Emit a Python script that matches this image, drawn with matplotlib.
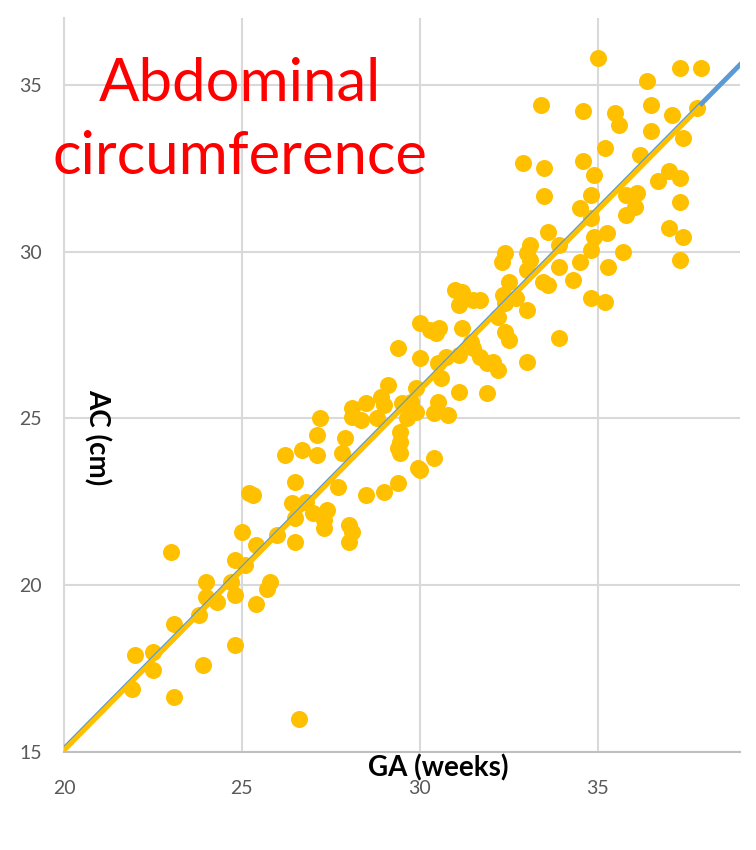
import matplotlib
matplotlib.use('Agg')
import matplotlib.pyplot as plt
import numpy as np

plt.rcParams['font.family'] = ['Lato', 'DejaVu Sans']

# GA (weeks) and AC (cm)
ga = [21.9, 22.0, 22.5, 22.5, 23.0, 23.1, 23.1, 23.8, 23.9, 24.0, 24.0, 24.3, 24.7, 24.8, 24.8, 24.8, 25.0,
      25.1, 25.2, 25.3, 25.4, 25.4, 25.7, 25.8, 26.0, 26.2, 26.4, 26.5, 26.5, 26.5, 26.6, 26.7, 26.8, 27.0,
      27.1, 27.1, 27.2, 27.3, 27.3, 27.4, 27.7, 27.8, 27.9, 28.0, 28.1, 28.0, 28.5, 29.0, 29.4, 29.45, 29.45,
      29.4, 29.45, 29.95,
      28.1, 28.1, 28.5, 28.35, 28.8, 28.9, 29.1, 29.0, 29.4, 29.5, 29.75, 29.9, 29.65, 29.9,
      30.0, 30.0, 30.3, 30.55, 30.45, 30.5, 30.75, 30.6, 30.5, 30.4, 30.8, 31.1, 31.1, 31.2, 31.0, 31.2,
      31.1, 31.5, 31.7, 31.45, 31.5, 31.7, 31.9, 32.05, 32.2, 31.9, 32.2, 32.4, 32.5, 32.35, 32.4, 32.7,
      32.5, 32.3, 32.4, 33.1, 33.0, 33.1, 33.0, 33.0, 33.0, 33.45, 33.6, 33.9, 33.9, 33.9, 34.3, 34.5,
      34.8, 34.8, 30.0, 30.4,
      35.0, 37.3, 37.9, 36.4, 33.4, 34.6, 35.5, 35.6, 36.5, 37.1, 37.8, 36.5, 37.4, 35.2, 36.2, 32.9,
      33.5, 34.6, 34.9, 37.0, 37.3, 36.7, 33.5, 34.8, 35.8, 36.1, 35.8, 36.05, 34.5, 34.8, 37.3, 33.6,
      34.9, 35.25, 37.0, 37.4, 35.3, 35.7, 35.2, 37.3]
ac = [16.9, 17.9, 18.0, 17.45, 21.0, 18.85, 16.65, 19.1, 17.6, 20.1, 19.65, 19.5, 20.1, 20.75, 19.7, 18.2, 21.6,
      20.6, 22.75, 22.7, 21.2, 19.45, 19.9, 20.1, 21.5, 23.9, 22.45, 23.1, 22.0, 21.3, 16.0, 24.05, 22.5, 22.15,
      24.5, 23.9, 25.0, 21.95, 21.7, 22.25, 22.95, 23.95, 24.4, 21.8, 21.6, 21.3, 22.7, 22.8, 23.05, 24.6, 24.3,
      24.1, 23.95, 23.5,
      25.3, 25.05, 25.45, 24.95, 25.0, 25.65, 26.0, 25.4, 27.1, 25.45, 25.5, 25.2, 25.0, 25.9,
      27.85, 26.8, 27.65, 27.7, 27.55, 26.65, 26.85, 26.2, 25.5, 25.15, 25.1, 25.8, 26.9, 27.7, 28.85, 28.8,
      28.4, 28.55, 28.55, 27.3, 27.1, 26.85, 26.65, 26.7, 26.45, 25.75, 28.05, 27.6, 27.35, 28.7, 28.45, 28.6,
      29.1, 29.7, 29.95, 30.2, 29.95, 29.75, 29.45, 28.25, 26.7, 29.1, 29.0, 27.4, 29.55, 30.2, 29.15, 29.7,
      30.05, 28.6, 23.45, 23.8,
      35.8, 35.5, 35.5, 35.1, 34.4, 34.2, 34.15, 33.8, 34.4, 34.1, 34.3, 33.6, 33.4, 33.1, 32.9, 32.65,
      32.5, 32.7, 32.3, 32.4, 32.2, 32.1, 31.65, 31.7, 31.7, 31.75, 31.1, 31.35, 31.3, 31.0, 31.5, 30.6,
      30.45, 30.55, 30.7, 30.45, 29.55, 30.0, 28.5, 29.75]

# two straight lines
blue_x = [20, 39.5]
blue_y = [15.1, 36.14]
fit_x = [20, 37.9]
fit_y = [15.05, 34.36]

xticks = [20, 25, 30, 35]
yticks = [15, 20, 25, 30, 35]

fig = plt.figure(figsize=(7.56, 8.5), dpi=100)
ax = fig.add_axes([64/756, 1-752/850, 676/756, 734/850])

ax.scatter(ga, ac, s=150, color='#FFC000', zorder=3, linewidths=0)
ax.plot(blue_x, blue_y, color='#5B9BD5', linewidth=3.5, zorder=4, solid_capstyle='butt')
ax.plot(fit_x, fit_y, color='#FFC000', linewidth=3.5, zorder=5, solid_capstyle='butt')

ax.set_xlim(20, 39)
ax.set_ylim(15, 37)
ax.set_xticks(xticks)
ax.set_yticks(yticks)
ax.grid(True, color='#d9d9d9', linewidth=1.5)
ax.set_axisbelow(True)
for s in ['top', 'right']:
    ax.spines[s].set_visible(False)
ax.spines['left'].set_color('#d9d9d9')
ax.spines['bottom'].set_color('#bfbfbf')
ax.spines['left'].set_linewidth(1.5)
ax.spines['bottom'].set_linewidth(1.5)
ax.tick_params(length=0, labelsize=14, colors='#595959')
ax.tick_params(axis='x', pad=20)
ax.tick_params(axis='y', pad=16)

fig.text(240/756, 1-84/850, 'Abdominal', color='red', fontsize=43, ha='center', va='center')
fig.text(240/756, 1-157/850, 'circumference', color='red', fontsize=43, ha='center', va='center')
fig.text(438/756, 1-768/850, 'GA (weeks)', fontsize=20, fontweight='bold', ha='center', va='center')
fig.text(97/756, 1-437/850, 'AC (cm)', fontsize=20, fontweight='bold', ha='center', va='center',
         rotation=270)

fig.savefig('out.png', dpi=100)
